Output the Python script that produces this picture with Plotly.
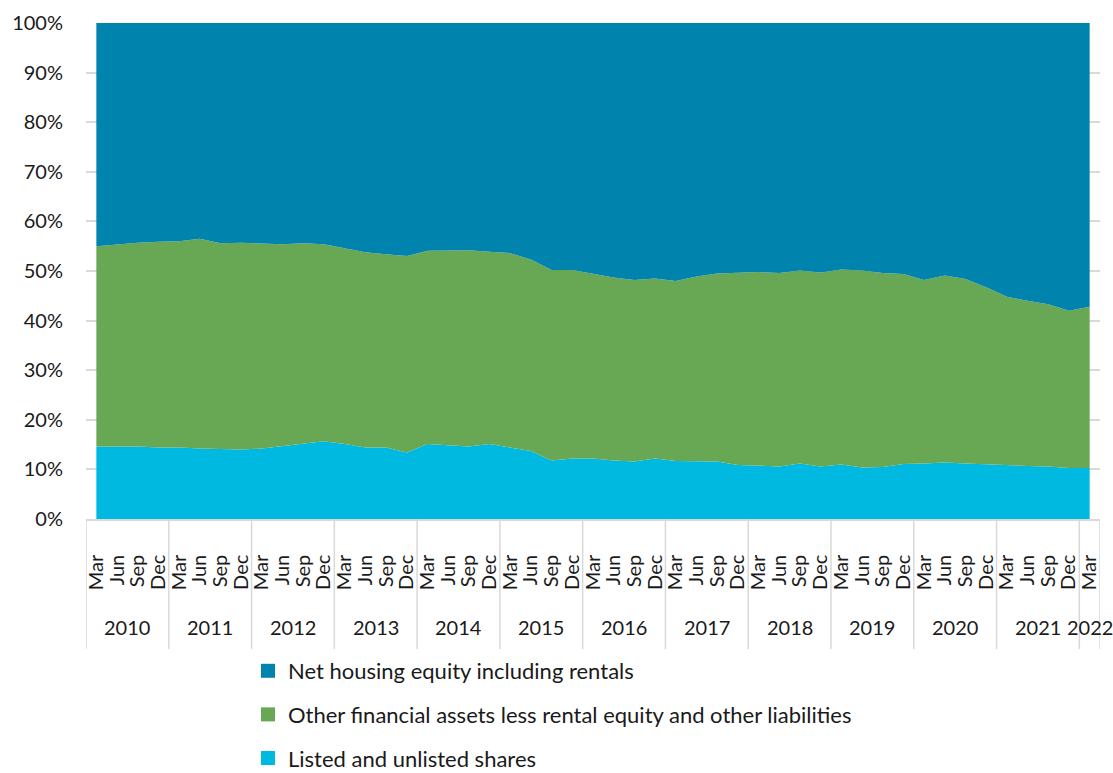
import plotly.graph_objects as go

years = ["2010", "2011", "2012", "2013", "2014", "2015", "2016", "2017",
         "2018", "2019", "2020", "2021", "2022"]
quarter_names = ["Mar", "Jun", "Sep", "Dec"]
quarters = [q for y in years[:-1] for q in quarter_names] + ["Mar"]

# Listed and unlisted shares (% of total)
shares = [14.6, 14.6, 14.6, 14.4, 14.4, 14.2, 14.1, 14.0, 14.2, 14.7, 15.3, 15.7,
          15.1, 14.4, 14.4, 13.4, 15.1, 14.8, 14.6, 15.1, 14.4, 13.7, 11.8, 12.2,
          12.2, 11.8, 11.6, 12.2, 11.7, 11.7, 11.6, 10.9, 10.7, 10.6, 11.2, 10.6,
          11.0, 10.4, 10.5, 11.1, 11.2, 11.4, 11.2, 11.0, 10.9, 10.7, 10.6, 10.3,
          10.3]
# Cumulative top of "other financial assets" band (% of total)
top_other = [55.0, 55.4, 55.7, 55.9, 56.0, 56.5, 55.6, 55.7, 55.5, 55.4, 55.6, 55.4,
             54.6, 53.8, 53.4, 53.0, 54.1, 54.1, 54.2, 53.9, 53.6, 52.3, 50.2, 50.2,
             49.4, 48.7, 48.2, 48.5, 48.0, 48.9, 49.5, 49.7, 49.8, 49.6, 50.1, 49.7,
             50.3, 50.1, 49.6, 49.4, 48.2, 49.1, 48.4, 46.7, 44.8, 44.0, 43.3, 42.0,
             42.8]
other = [round(t - s, 2) for t, s in zip(top_other, shares)]
housing = [round(100 - t, 2) for t in top_other]

series = [
    ("Listed and unlisted shares", shares, "#00b9e0", 3),
    ("Other financial assets less rental equity and other liabilities", other, "#68a854", 2),
    ("Net housing equity including rentals", housing, "#0083ac", 1),
]

FONT = "Lato, 'Open Sans', sans-serif"
TXT = "#1a1a1a"
x = list(range(len(quarters)))

fig = go.Figure()
for name, vals, color, rank in series:
    fig.add_trace(go.Scatter(
        x=x, y=vals, name=name, mode="lines", stackgroup="one",
        line=dict(width=0, color=color), fillcolor=color,
        showlegend=False, hoverinfo="skip"))
for name, vals, color, rank in series:
    fig.add_trace(go.Scatter(
        x=[None], y=[None], name=name, mode="markers",
        marker=dict(symbol="square", size=14, color=color),
        legendgroup=name, legendrank=rank, showlegend=True))

# year separators and labels
shapes = []
annotations = []
bounds = [-0.5]
for i, yr in enumerate(years):
    n = 4 if i < len(years) - 1 else 1
    start = bounds[-1]
    end = start + n
    bounds.append(end)
    annotations.append(dict(
        x=(start + end) / 2, y=-0.218, xref="x", yref="paper", text=yr,
        showarrow=False, font=dict(family=FONT, size=20, color=TXT),
        xanchor="center", yanchor="middle"))
for b in bounds:
    shapes.append(dict(type="line", xref="x", yref="paper", x0=b, x1=b,
                       y0=0, y1=-0.262, line=dict(color="#d9d9d9", width=1.5)))

fig.update_layout(
    width=1113, height=773,
    margin=dict(l=86, r=13, t=23, b=254, autoexpand=False),
    paper_bgcolor="white", plot_bgcolor="white",
    font=dict(family=FONT, size=20, color=TXT),
    shapes=shapes, annotations=annotations,
    legend=dict(orientation="v", xref="container", x=248 / 1113, xanchor="left",
                yref="container", y=1 - 650 / 773, yanchor="top",
                traceorder="grouped", tracegroupgap=12,
                font=dict(family=FONT, size=22, color=TXT),
                bgcolor="rgba(0,0,0,0)"),
    showlegend=True,
)
fig.update_xaxes(
    range=[-0.5, len(quarters) - 0.5], tickmode="array", tickvals=x,
    ticktext=quarters, tickangle=-90, showgrid=False, zeroline=False,
    showline=True, linecolor="#d9d9d9", linewidth=1.5, ticks="",
    automargin=False,
    ticklabelstandoff=26, tickfont=dict(family=FONT, size=20, color=TXT))
fig.update_yaxes(
    range=[0, 100], dtick=10, ticksuffix="%", showgrid=True,
    gridcolor="#d9d9d9", gridwidth=1.5, zeroline=False, showline=False,
    ticks="", ticklabelstandoff=22, automargin=False,
    tickfont=dict(family=FONT, size=20, color=TXT))

fig.write_html("out.html", config={"displayModeBar": False},
               post_script="document.body.style.margin='0';")
